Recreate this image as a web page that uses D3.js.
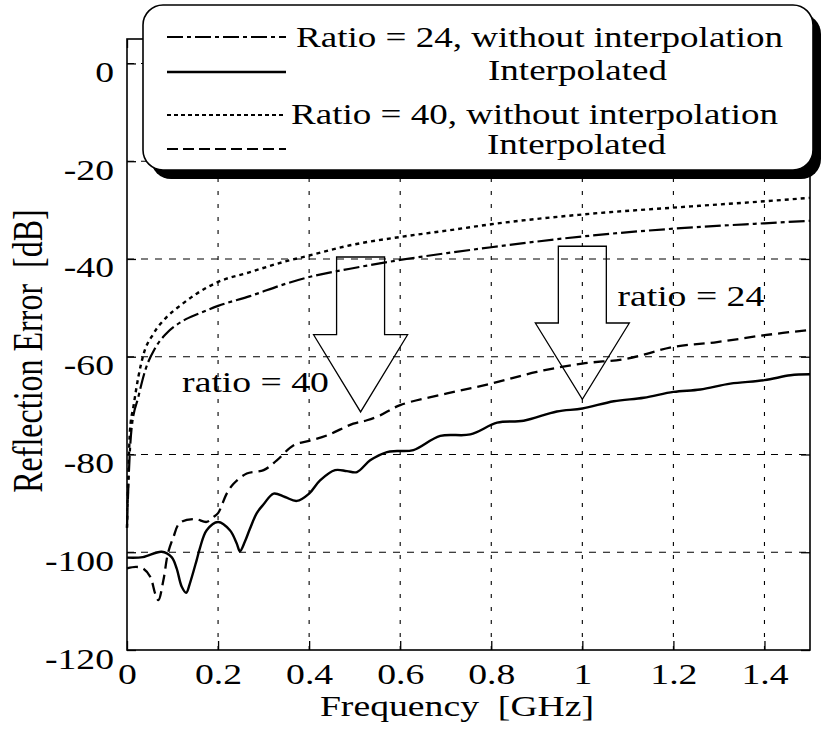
<!DOCTYPE html>
<html><head><meta charset="utf-8">
<script src="https://cdn.jsdelivr.net/npm/d3@7"></script>
<style>
body{margin:0;background:#fff;}
svg text{font-family:"Liberation Serif","Times New Roman",serif;fill:#000;white-space:pre;}
</style>
</head><body>
<svg id="c" width="826" height="729"></svg>
<script>
// ---------------- data ----------------
const xTickVals = [0, 0.2, 0.4, 0.6, 0.8, 1, 1.2, 1.4];
const xTickLabels = ["0", "0.2", "0.4", "0.6", "0.8", "1", "1.2", "1.4"];
const yTickVals = [0, -20, -40, -60, -80, -100, -120];
const yTickLabels = ["0", "-20", "-40", "-60", "-80", "-100", "-120"];

// Ratio = 24, without interpolation (dash-dot)
const r24RawFreq = [0, 0.004, 0.01, 0.025, 0.04, 0.062, 0.087, 0.124, 0.16, 0.2, 0.27, 0.351, 0.4, 0.49, 0.6, 0.703, 0.8, 1.0, 1.2, 1.4, 1.5];
const r24RawDb   = [-95, -84, -74.7, -68.2, -62.8, -58.2, -55.2, -52.6, -51.1, -49.6, -47.6, -45, -43.7, -42, -40.2, -38.8, -37.6, -35.4, -33.8, -32.7, -32.2];

// Ratio = 24, interpolated (solid)
const r24IntFreq = [0, 0.035, 0.076, 0.098, 0.109, 0.12, 0.13, 0.138, 0.153, 0.16, 0.175, 0.2, 0.226, 0.241, 0.248, 0.259, 0.27, 0.285, 0.3, 0.322, 0.347, 0.373, 0.4, 0.424, 0.457, 0.483, 0.505, 0.534, 0.571, 0.593, 0.629, 0.688, 0.754, 0.813, 0.871, 0.944, 1.0, 1.069, 1.135, 1.2, 1.259, 1.325, 1.4, 1.457, 1.5];
const r24IntDb   = [-101.1, -101, -99.9, -101, -103.3, -107, -108.3, -106.4, -101.6, -99.2, -95.5, -93.8, -95.5, -98.2, -99.8, -97.8, -95.2, -92, -90.2, -88, -88.7, -89.5, -88, -85.3, -83.2, -83.4, -83.6, -81.2, -79.5, -79.3, -79.1, -76.2, -75.9, -73.5, -73.1, -71.2, -70.6, -69.1, -68.4, -67.2, -66.7, -65.5, -64.8, -63.8, -63.6];

// Ratio = 40, without interpolation (dotted)
const r40RawFreq = [0, 0.003, 0.0066, 0.014, 0.025, 0.036, 0.058, 0.087, 0.116, 0.153, 0.2, 0.27, 0.344, 0.4, 0.49, 0.6, 0.71, 0.8, 1.0, 1.215, 1.4, 1.5];
const r40RawDb   = [-95, -84, -75, -70.3, -64.1, -59.6, -55.3, -51.9, -49.6, -47.1, -44.7, -42.7, -40.6, -39.3, -37.2, -35.5, -34.1, -32.9, -30.9, -29.4, -28.2, -27.5];

// Ratio = 40, interpolated (dashed)
const r40IntFreq = [0, 0.02, 0.035, 0.051, 0.062, 0.069, 0.08, 0.09, 0.102, 0.116, 0.149, 0.175, 0.19, 0.2, 0.219, 0.234, 0.263, 0.3, 0.329, 0.366, 0.4, 0.439, 0.497, 0.527, 0.556, 0.6, 0.703, 0.8, 0.9, 1.0, 1.098, 1.2, 1.296, 1.4, 1.5];
const r40IntDb   = [-103.3, -103, -103.3, -105, -108.5, -109.8, -105.7, -100.2, -96.9, -94, -93.2, -93.8, -92.8, -92, -88, -86, -83.9, -83.2, -81.2, -78.1, -77.2, -76.1, -73.7, -73, -72, -69.9, -67.5, -65.5, -63.1, -61.4, -60.4, -58, -57, -55.6, -54.5];

const legendLabels = ["Ratio = 24, without interpolation", "Interpolated", "Ratio = 40, without interpolation", "Interpolated"];
const annotLabels = ["ratio = 40", "ratio = 24"];
const annotFreq = [0.121, 1.077];
const annotDb = [-67.3, -49.7];
// hollow arrows: centre freq, top dB, shoulder dB, tip dB
const arrowFreq = [0.513, 1.0];
const arrowTopDb = [-39.6, -37.4];
const arrowShoulderDb = [-55.5, -53.1];
const arrowTipDb = [-71.3, -68.7];
const xLabel = "Frequency  [GHz]";
const yLabel = "Reflection Error  [dB]";

// ---------------- drawing ----------------
const SX = 1.3; // horizontal stretch of glyphs seen in reference
const svg = d3.select("#c");
const x = d3.scaleLinear().domain([0, 1.5]).range([127, 810]);
const y = d3.scaleLinear().domain([-120, 5]).range([650, 39]);

// grid
const grid = svg.append("g");
grid.selectAll("line.v").data(xTickVals.filter(d => d > 0)).join("line")
  .attr("x1", d => x(d)).attr("x2", d => x(d))
  .attr("y1", y(-120)).attr("y2", y(5))
  .attr("stroke", "#000").attr("stroke-width", 1.1).attr("stroke-dasharray", "4,9");
grid.selectAll("line.h").data(yTickVals.filter(d => d > -120)).join("line")
  .attr("x1", x(0)).attr("x2", x(1.5))
  .attr("y1", d => y(d)).attr("y2", d => y(d))
  .attr("stroke", "#000").attr("stroke-width", 1.1).attr("stroke-dasharray", "7,7");

// curves
function series(fr, db) { return fr.map((f, i) => [f, db[i]]); }
const lineMono = d3.line().x(d => x(d[0])).y(d => y(d[1])).curve(d3.curveMonotoneX);
const lineCR = d3.line().x(d => x(d[0])).y(d => y(d[1])).curve(d3.curveCatmullRom.alpha(0.5));
const curves = [
  {data: series(r24RawFreq, r24RawDb), gen: lineMono, dash: "16,4,4,4", w: 2.2},
  {data: series(r24IntFreq, r24IntDb), gen: lineCR, dash: null, w: 2.4},
  {data: series(r40RawFreq, r40RawDb), gen: lineMono, dash: "4,4", w: 2.4},
  {data: series(r40IntFreq, r40IntDb), gen: lineCR, dash: "11,6", w: 2.3}
];
svg.append("g").selectAll("path").data(curves).join("path")
  .attr("d", c => c.gen(c.data))
  .attr("fill", "none").attr("stroke", "#000")
  .attr("stroke-width", c => c.w)
  .attr("stroke-dasharray", c => c.dash);

// arrows
const shaftHalf = 24 / (x(1) - x(0));
const headHalf = 47 / (x(1) - x(0));
svg.append("g").selectAll("path").data(arrowFreq.map((f, i) => i)).join("path")
  .attr("d", i => {
    const f = arrowFreq[i];
    const pts = [
      [f - shaftHalf, arrowTopDb[i]], [f + shaftHalf, arrowTopDb[i]],
      [f + shaftHalf, arrowShoulderDb[i]], [f + headHalf, arrowShoulderDb[i]],
      [f, arrowTipDb[i]], [f - headHalf, arrowShoulderDb[i]],
      [f - shaftHalf, arrowShoulderDb[i]]
    ];
    return "M" + pts.map(p => x(p[0]) + "," + y(p[1])).join("L") + "Z";
  })
  .attr("fill", "none").attr("stroke", "#000").attr("stroke-width", 1.3);

// annotation labels
svg.append("g").selectAll("text").data(annotLabels).join("text")
  .attr("transform", (d, i) => `translate(${x(annotFreq[i])},${y(annotDb[i])}) scale(${SX},1)`)
  .attr("font-size", 29).text(d => d);

// frame
svg.append("rect").attr("x", x(0)).attr("y", y(5))
  .attr("width", x(1.5) - x(0)).attr("height", y(-120) - y(5))
  .attr("fill", "none").attr("stroke", "#000").attr("stroke-width", 1.6);

// axes
const xAxis = svg.append("g").attr("transform", `translate(0,${y(-120)})`)
  .call(d3.axisBottom(x).tickValues(xTickVals).tickFormat((d, i) => xTickLabels[i]).tickSizeInner(-9).tickSizeOuter(0));
const yAxis = svg.append("g").attr("transform", `translate(${x(0)},0)`)
  .call(d3.axisLeft(y).tickValues(yTickVals).tickFormat((d, i) => yTickLabels[i]).tickSizeInner(-9).tickSizeOuter(0));
svg.append("g").attr("transform", `translate(0,${y(5)})`)
  .call(d3.axisTop(x).tickValues(xTickVals).tickFormat("").tickSizeInner(-9).tickSizeOuter(0));
svg.append("g").attr("transform", `translate(${x(1.5)},0)`)
  .call(d3.axisRight(y).tickValues(yTickVals).tickFormat("").tickSizeInner(-9).tickSizeOuter(0));
svg.selectAll(".domain").remove();
svg.selectAll(".tick line").attr("stroke", "#000").attr("stroke-width", 1.3);
xAxis.selectAll("text").attr("y", 34).attr("dy", 0).attr("font-size", 29)
  .attr("transform", `scale(${SX},1)`);
yAxis.selectAll("text").attr("x", -13 / SX).attr("y", 18).attr("dy", 0).attr("font-size", 29)
  .attr("transform", `scale(${SX},1)`);

// axis titles
svg.append("text").attr("transform", `translate(457,716) scale(${SX},1)`)
  .attr("text-anchor", "middle").attr("font-size", 29).attr("xml:space", "preserve").text(xLabel);
svg.append("text").attr("transform", `translate(42,351) scale(${SX},1) rotate(-90)`)
  .attr("text-anchor", "middle").attr("font-size", 32).attr("xml:space", "preserve").text(yLabel);

// legend
const lg = svg.append("g");
lg.append("rect").attr("x", 151).attr("y", 14).attr("width", 670).attr("height", 165).attr("rx", 20).attr("fill", "#000");
lg.append("rect").attr("x", 143).attr("y", 5).attr("width", 670).attr("height", 165).attr("rx", 20)
  .attr("fill", "#fff").attr("stroke", "#000").attr("stroke-width", 1.6);
const legRowsY = [37, 72, 115, 149];
const legText = [[296, 47], [488, 80], [291, 124], [487, 154]];
const legDash = ["16,4,4,4", null, "4,3", "11,5"];
lg.selectAll("line").data(legendLabels).join("line")
  .attr("x1", 167).attr("x2", 286)
  .attr("y1", (d, i) => legRowsY[i]).attr("y2", (d, i) => legRowsY[i])
  .attr("stroke", "#000").attr("stroke-width", (d, i) => i === 1 ? 2.6 : 2.2)
  .attr("stroke-dasharray", (d, i) => legDash[i]);
lg.selectAll("text").data(legendLabels).join("text")
  .attr("transform", (d, i) => `translate(${legText[i][0]},${legText[i][1]}) scale(${SX},1)`)
  .attr("font-size", 28.5).text(d => d);
</script>
</body></html>
